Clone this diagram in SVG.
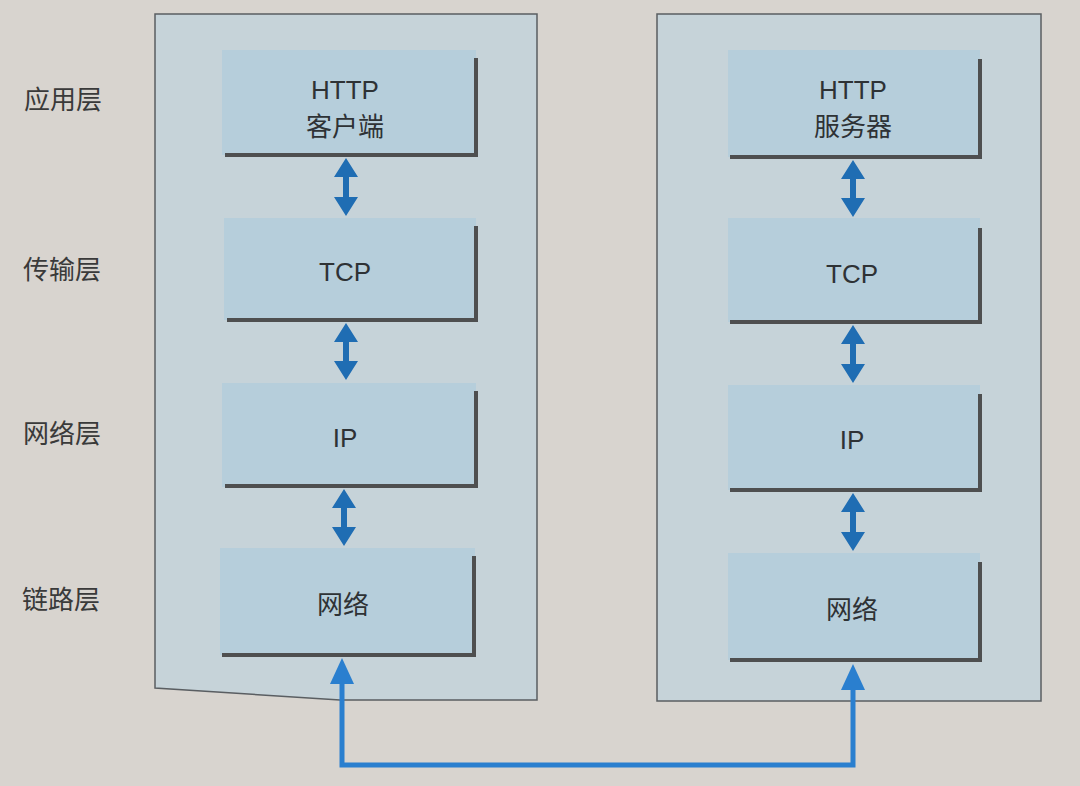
<svg xmlns="http://www.w3.org/2000/svg" width="1080" height="786" viewBox="0 0 1080 786">
<style>
.panel{fill:#c6d3d9;stroke:#5a5e62;stroke-width:1.5}
.box{fill:#b6cedb}
.shadow{fill:none;stroke:#4e4f50;stroke-width:4}
.t{font-family:"Liberation Sans","Noto Sans CJK SC",sans-serif;font-size:26px;fill:#2e3235;text-anchor:middle}
.lbl{font-family:"Noto Sans CJK SC",sans-serif;font-size:26px;fill:#3a3a3a}
.dbl{fill:#1f6db3}
.link{fill:none;stroke:#2a7fcf;stroke-width:5}
.head{fill:#2a7fcf}
</style>
<rect width="1080" height="786" fill="#d8d4cf"/>
<g id="labels">
<text class="lbl" x="24" y="109">应用层</text>
<text class="lbl" x="23" y="279">传输层</text>
<text class="lbl" x="23" y="443">网络层</text>
<text class="lbl" x="22" y="609">链路层</text>
</g>
<g id="client-panel">
<polygon class="panel" points="155,14 537,14 537,700 340,700 155,688"/>
</g>
<g id="server-panel">
<rect class="panel" x="657" y="14" width="384" height="687"/>
</g>
<g id="http-client">
<rect class="box" x="222" y="50" width="254" height="105"/>
<polyline class="shadow" points="476,58 476,155 225,155"/>
<text class="t" x="345" y="99">HTTP</text>
<text class="t" x="345" y="136">客户端</text>
</g>
<g id="tcp-client">
<rect class="box" x="224" y="218" width="252" height="102"/>
<polyline class="shadow" points="476,226 476,320 227,320"/>
<text class="t" x="345" y="281">TCP</text>
</g>
<g id="ip-client">
<rect class="box" x="222" y="383" width="254" height="104"/>
<polyline class="shadow" points="476,391 476,486 225,486"/>
<text class="t" x="345" y="447">IP</text>
</g>
<g id="net-client">
<rect class="box" x="220" y="548" width="255" height="107"/>
<polyline class="shadow" points="474,556 474,655 222,655"/>
<text class="t" x="343" y="614">网络</text>
</g>
<g id="http-server">
<rect class="box" x="728" y="50" width="252" height="107"/>
<polyline class="shadow" points="980,59 980,157 730,157"/>
<text class="t" x="853" y="99">HTTP</text>
<text class="t" x="853" y="136">服务器</text>
</g>
<g id="tcp-server">
<rect class="box" x="728" y="218" width="252" height="104"/>
<polyline class="shadow" points="980,228 980,322 730,322"/>
<text class="t" x="852" y="283">TCP</text>
</g>
<g id="ip-server">
<rect class="box" x="728" y="385" width="252" height="105"/>
<polyline class="shadow" points="980,394 980,490 730,490"/>
<text class="t" x="852" y="449">IP</text>
</g>
<g id="net-server">
<rect class="box" x="728" y="553" width="252" height="107"/>
<polyline class="shadow" points="980,562 980,660 730,660"/>
<text class="t" x="852" y="619">网络</text>
</g>
<g id="connectors">
<path class="dbl" d="M346,158 L358,177 L349,177 L349,197 L358,197 L346,216 L334,197 L343,197 L343,177 L334,177 Z"/>
<path class="dbl" d="M346,323 L358,342 L349,342 L349,361 L358,361 L346,380 L334,361 L343,361 L343,342 L334,342 Z"/>
<path class="dbl" d="M344,489 L356,508 L347,508 L347,527 L356,527 L344,546 L332,527 L341,527 L341,508 L332,508 Z"/>
<path class="dbl" d="M853,160 L865,179 L856,179 L856,198 L865,198 L853,217 L841,198 L850,198 L850,179 L841,179 Z"/>
<path class="dbl" d="M853,325 L865,344 L856,344 L856,364 L865,364 L853,383 L841,364 L850,364 L850,344 L841,344 Z"/>
<path class="dbl" d="M853,493 L865,512 L856,512 L856,532 L865,532 L853,551 L841,532 L850,532 L850,512 L841,512 Z"/>
<polyline class="link" points="342,682 342,765 853,765 853,688"/>
<path class="head" d="M342,658 L354,684 L330,684 Z"/>
<path class="head" d="M853,664 L865,690 L841,690 Z"/>
</g>
</svg>
